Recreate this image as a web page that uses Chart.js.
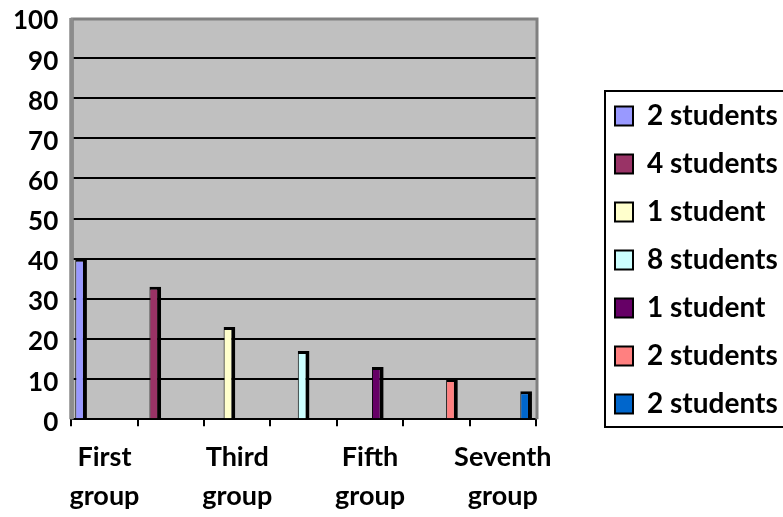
<!DOCTYPE html>
<html>
<head>
<meta charset="utf-8">
<script src="https://cdn.jsdelivr.net/npm/chart.js@4/dist/chart.umd.min.js"></script>
<style>
  html, body { margin: 0; padding: 0; background: #ffffff; overflow: hidden; }
  #wrap { width: 783px; height: 517px; }
</style>
</head>
<body>
<div id="wrap"><canvas id="chart" width="783" height="517"></canvas></div>
<script>
// Categories on the x axis (every other one is labelled)
const CATEGORIES = [
  ['First', 'group'], ['Second', 'group'], ['Third', 'group'], ['Fourth', 'group'],
  ['Fifth', 'group'], ['Sixth', 'group'], ['Seventh', 'group']
];
// One series per group, named after its size
const SERIES_NAMES = ['2 students', '4 students', '1 student', '8 students', '1 student', '2 students', '2 students'];
const SERIES_VALUES = [40, 33, 23, 17, 13, 10, 7];
const SERIES_COLORS = ['#9999FF', '#993366', '#FFFFCC', '#CCFFFF', '#660066', '#FF8080', '#0066CC'];
// Value axis
const Y_MIN = 0;
const Y_MAX = 100;
const Y_STEP = 10;

const Y_FONT = { family: 'Lato', weight: 'bold', size: 26, lineHeight: 1.27 };
const X_FONT = { family: 'Lato', weight: 'bold', size: 27, lineHeight: 1.44 };
const LEGEND_FONT = { family: 'Lato', weight: 'bold', size: 28, lineHeight: 1.2 };
const LEGEND_SPACE = 247;                         // width reserved on the right for the legend
const LEGEND_BOX = { left: 605, top: 91, bottom: 427 };   // drawn frame
const LEGEND_AREA = { top: 20, bottom: 500 };             // area the items are centred in

const datasets = SERIES_NAMES.map((name, i) => ({
  label: name,
  data: CATEGORIES.map((_, j) => (j === i ? SERIES_VALUES[i] : null)),
  backgroundColor: SERIES_COLORS[i],
  borderColor: '#000000',
  borderWidth: { left: 1, right: 4, top: 3, bottom: 0 },
  borderSkipped: 'start',
  categoryPercentage: 0.82,
  barPercentage: 1.5
}));

// Grey plot wall behind the grid, and its darker frame
const plotWall = {
  id: 'plotWall',
  beforeDraw(chart) {
    const { ctx, chartArea: a } = chart;
    ctx.save();
    ctx.fillStyle = '#C0C0C0';
    ctx.fillRect(a.left, a.top, a.right - a.left, a.bottom - a.top);
    ctx.restore();
  },
  beforeDatasetsDraw(chart) {
    const { ctx, chartArea: a } = chart;
    ctx.save();
    ctx.strokeStyle = '#808080';
    ctx.lineWidth = 3;
    ctx.beginPath();
    ctx.moveTo(a.left + 1, a.bottom);
    ctx.lineTo(a.left + 1, a.top + 1);
    ctx.lineTo(a.right + 1, a.top + 1);
    ctx.lineTo(a.right + 1, a.bottom);
    ctx.stroke();
    ctx.fillStyle = '#8C8C8C';
    ctx.fillRect(a.left - 2, a.top, 4, a.bottom - a.top);
    ctx.restore();
  }
};

// Fixed legend column with a framed box running off the right edge
const legendFrame = {
  id: 'legendFrame',
  beforeLayout(chart) {
    const lg = chart.legend;
    if (lg && !lg._fixedWidth) {
      const fit = lg.fit;
      lg.fit = function () { fit.call(this); this.width = LEGEND_SPACE; };
      lg._fixedWidth = true;
    }
  },
  afterLayout(chart) {
    const lg = chart.legend;
    if (!lg) return;
    const pad = lg.options.labels.padding;
    lg.left = LEGEND_BOX.left + 10 - pad;
    lg.right = lg.left + 400;
    lg.top = LEGEND_AREA.top;
    lg.bottom = LEGEND_AREA.bottom;
  },
  afterDraw(chart) {
    const ctx = chart.ctx;
    const far = chart.width + 20;
    ctx.save();
    ctx.strokeStyle = '#000000';
    ctx.lineWidth = 2;
    ctx.beginPath();
    ctx.moveTo(far, LEGEND_BOX.top);
    ctx.lineTo(LEGEND_BOX.left, LEGEND_BOX.top);
    ctx.lineTo(LEGEND_BOX.left, LEGEND_BOX.bottom);
    ctx.lineTo(far, LEGEND_BOX.bottom);
    ctx.stroke();
    ctx.restore();
  }
};

new Chart(document.getElementById('chart'), {
  type: 'bar',
  data: { labels: CATEGORIES, datasets },
  plugins: [plotWall, legendFrame],
  options: {
    responsive: false,
    animation: false,
    devicePixelRatio: 1,
    layout: { padding: { left: 13, top: 18, right: 0, bottom: -11 } },
    plugins: {
      tooltip: { enabled: false },
      legend: {
        position: 'right',
        labels: {
          color: '#000000',
          font: LEGEND_FONT,
          boxWidth: 18,
          boxHeight: 19,
          padding: 20,
          generateLabels(chart) {
            return Chart.defaults.plugins.legend.labels.generateLabels(chart).map(item => {
              item.lineWidth = 2;
              item.strokeStyle = '#000000';
              return item;
            });
          }
        }
      }
    },
    scales: {
      x: {
        offset: true,
        grid: {
          offset: true,
          drawOnChartArea: false,
          drawTicks: true,
          tickLength: 7,
          color: '#000000',
          lineWidth: 2
        },
        border: { display: true, color: '#000000', width: 2 },
        ticks: {
          color: '#000000',
          font: X_FONT,
          padding: 12,
          autoSkip: false,
          maxRotation: 0,
          minRotation: 0,
          callback(value, index) { return index % 2 === 0 ? CATEGORIES[index] : ''; }
        }
      },
      y: {
        min: Y_MIN,
        max: Y_MAX,
        grid: {
          drawTicks: true,
          tickLength: 13,
          tickColor: 'rgba(0,0,0,0)',
          color: ctx => (ctx.tick && (ctx.tick.value === Y_MAX || ctx.tick.value === Y_MIN)) ? 'rgba(0,0,0,0)' : '#000000',
          lineWidth: 2
        },
        border: { display: false },
        ticks: {
          stepSize: Y_STEP,
          color: '#000000',
          font: Y_FONT,
          padding: 0,
          labelOffset: 3
        }
      }
    }
  }
});
</script>
</body>
</html>
